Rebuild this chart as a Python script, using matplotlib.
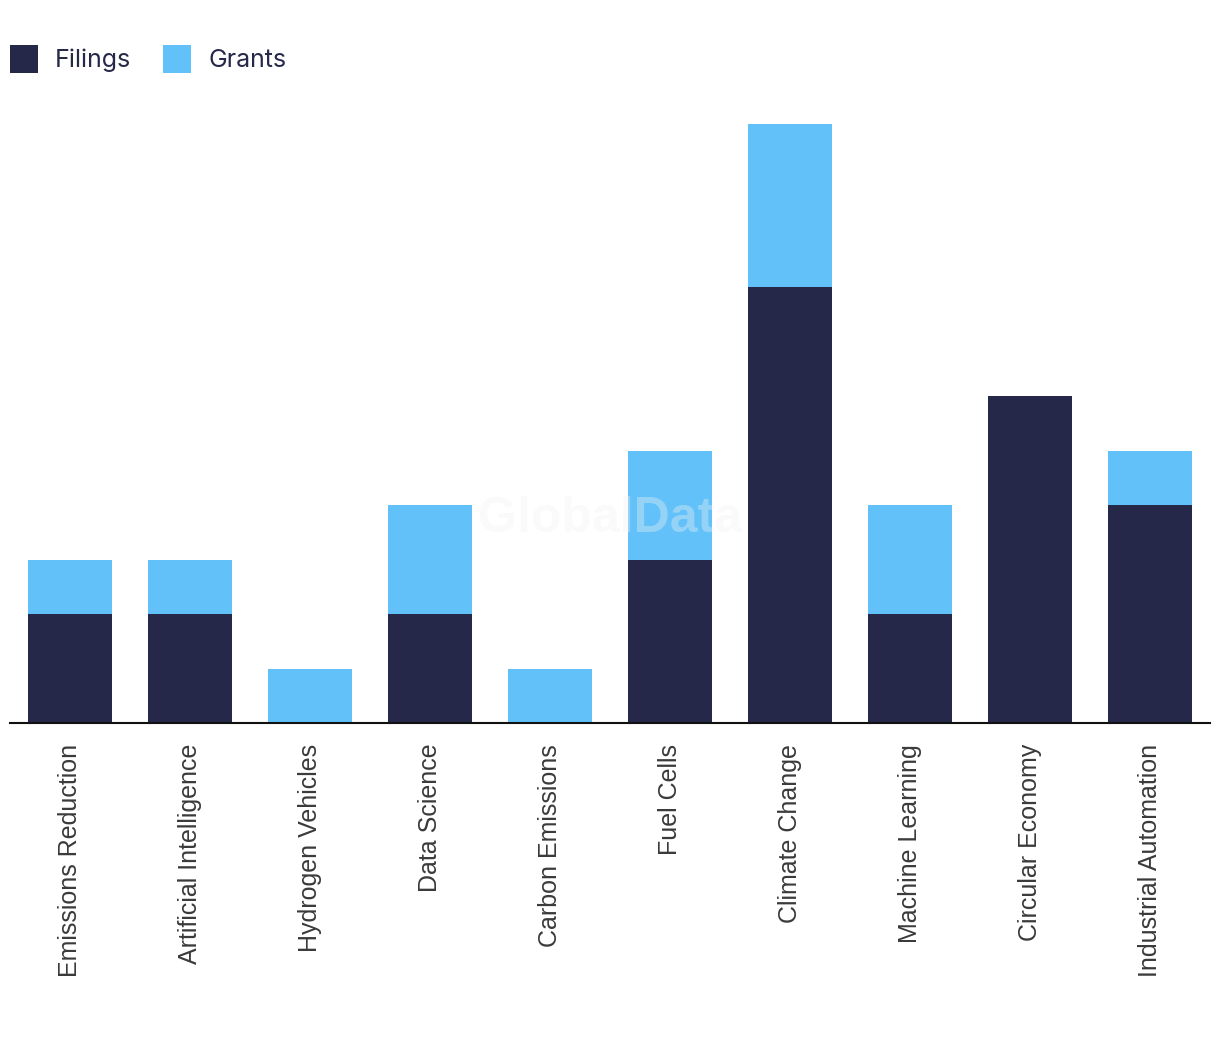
import matplotlib.pyplot as plt
import numpy as np

# data
categories = ['Emissions Reduction', 'Artificial Intelligence', 'Hydrogen Vehicles',
              'Data Science', 'Carbon Emissions', 'Fuel Cells', 'Climate Change',
              'Machine Learning', 'Circular Economy', 'Industrial Automation']
filings = [2, 2, 0, 2, 0, 3, 8, 2, 6, 4]
grants = [1, 1, 1, 2, 1, 2, 3, 2, 0, 1]

DARK = '#26284A'
LIGHT = '#62C1F9'

fig = plt.figure(figsize=(12.2, 10.42), dpi=100)
ax = fig.add_axes([10 / 1220, (1042 - 723) / 1042, 1200 / 1220, (723 - 124) / 1042])

x = np.arange(len(categories))
ax.bar(x, filings, width=0.7, color=DARK, label='Filings', zorder=2)
ax.bar(x, grants, width=0.7, bottom=filings, color=LIGHT, label='Grants', zorder=2)

ax.set_xlim(-0.5, len(categories) - 0.5)
ax.set_ylim(0, 11)
ax.set_xticks(x)
ax.set_xticklabels(categories, rotation=90, fontsize=18, color='#3a3a3a',
                   family=['Liberation Sans', 'DejaVu Sans'], va='top')
ax.tick_params(axis='x', length=0, pad=15)
ax.set_yticks([])
for s in ['top', 'right', 'left']:
    ax.spines[s].set_visible(False)
ax.spines['bottom'].set_linewidth(1.5)
ax.spines['bottom'].set_color('#111111')

# watermark
ax.text(0.5, 0.34, 'GlobalData', transform=ax.transAxes, ha='center', va='center',
        fontsize=36, fontweight='bold', color='#F2F2F2', alpha=0.35,
        family=['Liberation Sans', 'DejaVu Sans'], zorder=3)

fig.legend(loc='upper left', bbox_to_anchor=(10 / 1220, 1 - 45 / 1042), ncol=2,
           frameon=False, prop={'family': ['Inter', 'DejaVu Sans'], 'size': 18},
           handlelength=1.12, handleheight=1.35, handletextpad=0.68,
           columnspacing=1.28, labelcolor='#26284A', borderaxespad=0, borderpad=0)

fig.savefig('out.png', dpi=100)
